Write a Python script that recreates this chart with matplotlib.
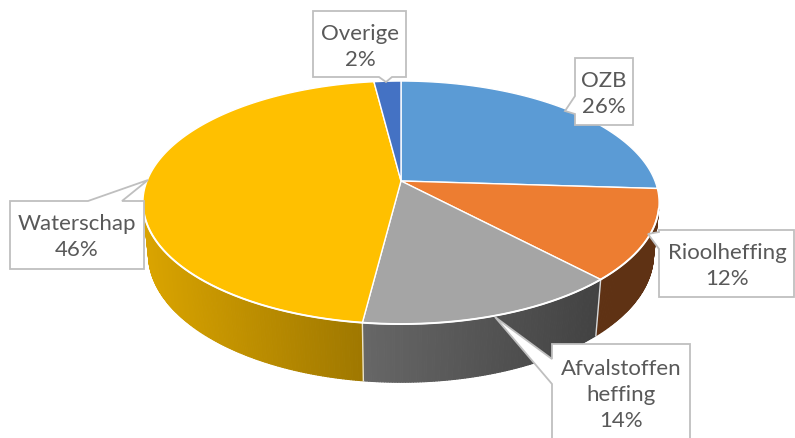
import numpy as np
import matplotlib
matplotlib.use("Agg")
import matplotlib.pyplot as plt
from matplotlib.patches import Polygon
from matplotlib.collections import PolyCollection

# ---- data ----
categories = ["OZB", "Rioolheffing", "Afvalstoffen\nheffing", "Waterschap", "Overige"]
values = [26, 12, 14, 46, 2]
colors = ["#5B9BD5", "#ED7D31", "#A5A5A5", "#FFC000", "#4472C4"]

# ---- layout / projection parameters ----
W, H = 795, 439
cx, cy = 401, 182
alpha = np.deg2rad(27.6)
sa, ca = np.sin(alpha), np.cos(alpha)
D = 5.0
F = 1270.0
h = 0.232


def proj(theta, z):
    X = np.sin(theta)
    Y = np.cos(theta)
    depth = D + Y * ca - z * sa
    up = Y * sa + z * ca
    return cx + F * X / depth, cy - F * up / depth


def shade(x):
    return np.interp(x, [147, 365, 600, 660], [0.85, 0.62, 0.40, 0.40])


fig = plt.figure(figsize=(W / 100, H / 100), dpi=100)
ax = fig.add_axes([0, 0, 1, 1])
ax.set_xlim(0, W)
ax.set_ylim(H, 0)
ax.axis("off")

total = float(sum(values))
fracs = np.array(values) / total
bounds = np.concatenate([[0], np.cumsum(fracs)]) * 2 * np.pi
ythr = -1.0 / (D * ca)

# ---- sides ----
for i, col in enumerate(colors):
    t0, t1 = bounds[i], bounds[i + 1]
    n = max(4, int(np.degrees(t1 - t0) * 2))
    ts = np.linspace(t0, t1, n + 1)
    quads, qcols = [], []
    base = np.array(matplotlib.colors.to_rgb(col))
    for a, b in zip(ts[:-1], ts[1:]):
        m = 0.5 * (a + b)
        if np.cos(m) >= ythr:
            continue
        xa, ya = proj(a, 0)
        xb, yb = proj(b, 0)
        xa2, ya2 = proj(a, -h)
        xb2, yb2 = proj(b, -h)
        quads.append([(xa, ya), (xb, yb), (xb2, yb2), (xa2, ya2)])
        c = np.clip(base * shade(0.5 * (xa + xb)), 0, 1)
        qcols.append(c)
    if quads:
        pc = PolyCollection(quads, facecolors=qcols, edgecolors=qcols, linewidths=0.8, zorder=1)
        ax.add_collection(pc)

# side boundary lines
for t in bounds[:-1]:
    if np.cos(t) < ythr:
        x1, y1 = proj(t, 0)
        x2, y2 = proj(t, -h)
        ax.plot([x1, x2], [y1, y2], color="white", lw=1.0, alpha=0.8, zorder=2)

# ---- top ----
for i, col in enumerate(colors):
    t0, t1 = bounds[i], bounds[i + 1]
    ts = np.linspace(t0, t1, max(4, int(np.degrees(t1 - t0) * 2)) + 1)
    xs, ys = proj(ts, 0)
    pts = [(cx, cy)] + list(zip(xs, ys))
    ax.add_patch(Polygon(pts, closed=True, facecolor=col, edgecolor="white", lw=1.0, zorder=3))

# rim highlight
tv = np.linspace(0, 2 * np.pi, 1441)
mask = np.cos(tv) < ythr
rx, ry = proj(tv[mask], 0)
ax.plot(rx, ry, color="white", lw=1.4, zorder=4)

# ---- callouts ----
pcts = [f"{int(round(f * 100))}%" for f in fracs]
texts = [f"{c}\n{p}" for c, p in zip(categories, pcts)]

# (x0, y0, x1, y1, side, base0, base1, tip)
boxes = [
    (575, 59, 633, 126, "left", 97, 115, (565, 112)),
    (659, 231, 794, 298, "left", 233, 250, (648, 235)),
    (552, 345, 690, 450, "left", 360, 385, (495, 318)),
    (10, 202, 144, 270, "top", 88, 122, (148, 181)),
    (313, 12, 406, 78, "bottom", 379, 392, (386, 83)),
]


def callout_poly(x0, y0, x1, y1, side, b0, b1, tip):
    if side == "left":
        return [(x0, y0), (x1, y0), (x1, y1), (x0, y1), (x0, b1), tip, (x0, b0)]
    if side == "top":
        return [(x0, y0), (b0, y0), tip, (b1, y0), (x1, y0), (x1, y1), (x0, y1)]
    if side == "bottom":
        return [(x0, y0), (x1, y0), (x1, y1), (b1, y1), tip, (b0, y1), (x0, y1)]


for (x0, y0, x1, y1, side, b0, b1, tip), txt in zip(boxes, texts):
    ax.add_patch(Polygon(callout_poly(x0, y0, x1, y1, side, b0, b1, tip), closed=True,
                         facecolor="white", edgecolor="#BFBFBF", lw=1.3, zorder=5))

text_pos = [(604, 94), (727, 266), (621, 395), (77, 237), (360, 47)]
for (tx, ty), txt in zip(text_pos, texts):
    ax.text(tx, ty, txt, ha="center", va="center", fontsize=16, color="#595959",
            family=["Lato", "DejaVu Sans"], linespacing=1.35, zorder=6)

fig.savefig("out.png", dpi=100)
